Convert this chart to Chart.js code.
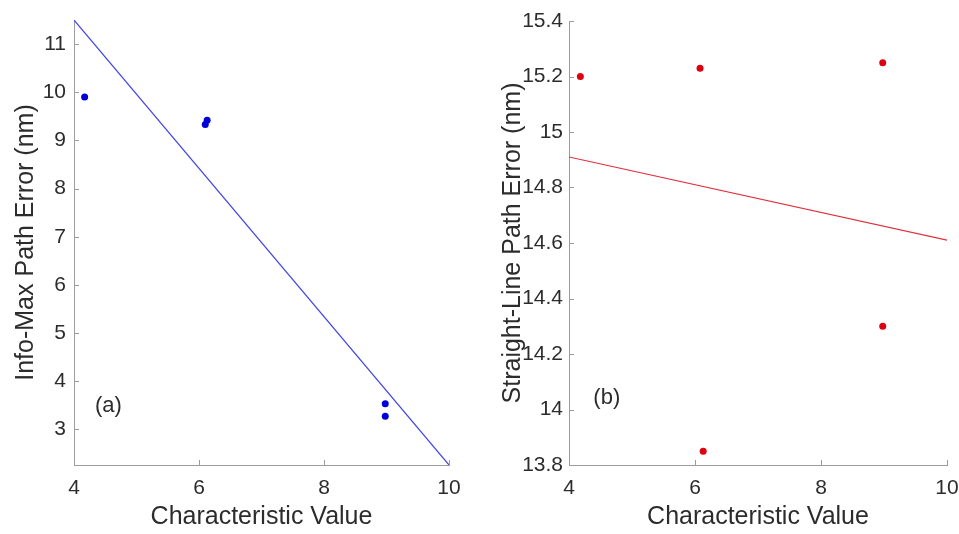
<!DOCTYPE html>
<html>
<head>
<meta charset="utf-8">
<script src="https://cdn.jsdelivr.net/npm/chart.js@4.4.1/dist/chart.umd.min.js"></script>
<style>
  html, body { margin: 0; padding: 0; background: #fff; }
  #wrap { position: relative; width: 959px; height: 534px; }
  .panel { position: absolute; top: 0; height: 534px; }
  #panelA { left: 0; width: 480px; }
  #panelB { left: 480px; width: 479px; }
</style>
</head>
<body>
<div id="wrap">
  <div class="panel" id="panelA"><canvas id="chartA"></canvas></div>
  <div class="panel" id="panelB"><canvas id="chartB"></canvas></div>
</div>
<script>
// (a) info-max path error vs characteristic value
const charA = [4.17, 6.10, 6.13, 8.98, 8.98];
const infoMaxErr = [9.90, 9.33, 9.42, 3.53, 3.27];
const fitXA = [4, 10];
const fitYA = [11.5, 2.26];

// (b) straight-line path error vs characteristic value
const charB = [4.18, 6.08, 6.13, 8.98, 8.98];
const straightErr = [15.20, 15.23, 13.85, 15.25, 14.30];
const fitXB = [4, 10];
const fitYB = [14.91, 14.61];

const xTicks = [4, 6, 8, 10];
const yTicksA = [3, 4, 5, 6, 7, 8, 9, 10, 11];
const yTicksB = [13.8, 14, 14.2, 14.4, 14.6, 14.8, 15, 15.2, 15.4];
const panelLabels = ['(a)', '(b)'];

const FONT = "'Liberation Sans', Arial, Helvetica, sans-serif";
const TEXT = '#2c2c2c';
const AXIS = '#9c9c9c';

const toPts = (xs, ys) => xs.map((v, i) => ({ x: v, y: ys[i] }));

// inward tick marks plus the panel letter
const axisDecor = {
  id: 'axisDecor',
  afterDatasetsDraw(chart, args, opts) {
    const { ctx, chartArea: a, scales: { x, y } } = chart;
    ctx.save();
    ctx.strokeStyle = AXIS;
    ctx.lineWidth = 1;
    ctx.beginPath();
    x.ticks.forEach(t => {
      const px = Math.round(x.getPixelForValue(t.value)) + 0.5;
      ctx.moveTo(px, a.bottom);
      ctx.lineTo(px, a.bottom - 5);
    });
    y.ticks.forEach(t => {
      const py = Math.round(y.getPixelForValue(t.value)) + 0.5;
      ctx.moveTo(a.left, py);
      ctx.lineTo(a.left + 5, py);
    });
    ctx.stroke();
    ctx.fillStyle = TEXT;
    ctx.font = '22px ' + FONT;
    ctx.textAlign = 'center';
    ctx.textBaseline = 'middle';
    ctx.fillText(opts.text, x.getPixelForValue(opts.x), y.getPixelForValue(opts.y));
    ctx.restore();
  }
};

function makeChart(id, cfg) {
  return new Chart(document.getElementById(id), {
    type: 'scatter',
    data: {
      datasets: [
        {
          data: cfg.points,
          pointRadius: 3.5,
          pointBackgroundColor: cfg.dot,
          pointBorderWidth: 0,
          showLine: false
        },
        {
          data: cfg.fit,
          showLine: true,
          borderColor: cfg.line,
          borderWidth: 1.2,
          pointRadius: 0
        }
      ]
    },
    options: {
      responsive: true,
      maintainAspectRatio: false,
      animation: false,
      layout: { padding: { top: cfg.top, right: cfg.right, left: 0, bottom: 0 } },
      plugins: {
        legend: { display: false },
        tooltip: { enabled: false },
        axisDecor: cfg.label
      },
      scales: {
        x: {
          type: 'linear',
          min: 4,
          max: 10,
          afterBuildTicks: s => { s.ticks = xTicks.map(v => ({ value: v })); },
          afterFit: s => { s.height = 69; s.paddingLeft = 0; s.paddingRight = 0; },
          grid: { display: false, drawTicks: false },
          border: { display: true, color: AXIS, width: 1 },
          ticks: { color: TEXT, padding: 11, font: { family: FONT, size: 21, lineHeight: 1.2 }, callback: v => String(v) },
          title: {
            display: true,
            text: 'Characteristic Value',
            color: TEXT,
            font: { family: FONT, size: 25, lineHeight: 1.2 },
            padding: { top: 0, bottom: 2 }
          }
        },
        y: {
          type: 'linear',
          min: cfg.yMin,
          max: cfg.yMax,
          afterBuildTicks: s => { s.ticks = cfg.yTicks.map(v => ({ value: v })); },
          afterFit: s => { s.width = cfg.left; s.paddingTop = 0; s.paddingBottom = 0; },
          grid: { display: false, drawTicks: false },
          border: { display: true, color: AXIS, width: 1 },
          ticks: { color: TEXT, padding: cfg.tickPad, font: { family: FONT, size: 21, lineHeight: 1.2 }, callback: v => String(v) },
          title: {
            display: true,
            text: cfg.yTitle,
            color: TEXT,
            font: { family: FONT, size: 25, lineHeight: 1.2 },
            padding: { top: cfg.titlePad, bottom: 0 }
          }
        }
      }
    },
    plugins: [axisDecor]
  });
}

makeChart('chartA', {
  points: toPts(charA, infoMaxErr),
  fit: toPts(fitXA, fitYA),
  dot: '#0000d8',
  line: '#4444e8',
  yMin: 2.26, yMax: 11.5,
  yTicks: yTicksA,
  yTitle: 'Info-Max Path Error (nm)',
  left: 74, top: 20, right: 31,
  tickPad: 8, titlePad: 11,
  label: { text: panelLabels[0], x: 4.55, y: 3.49 }
});

makeChart('chartB', {
  points: toPts(charB, straightErr),
  fit: toPts(fitXB, fitYB),
  dot: '#dd0010',
  line: '#e0303c',
  yMin: 13.8, yMax: 15.4,
  yTicks: yTicksB,
  yTitle: 'Straight-Line Path Error (nm)',
  left: 89, top: 21, right: 12,
  tickPad: 6, titlePad: 18,
  label: { text: panelLabels[1], x: 4.6, y: 14.04 }
});
</script>
</body>
</html>
